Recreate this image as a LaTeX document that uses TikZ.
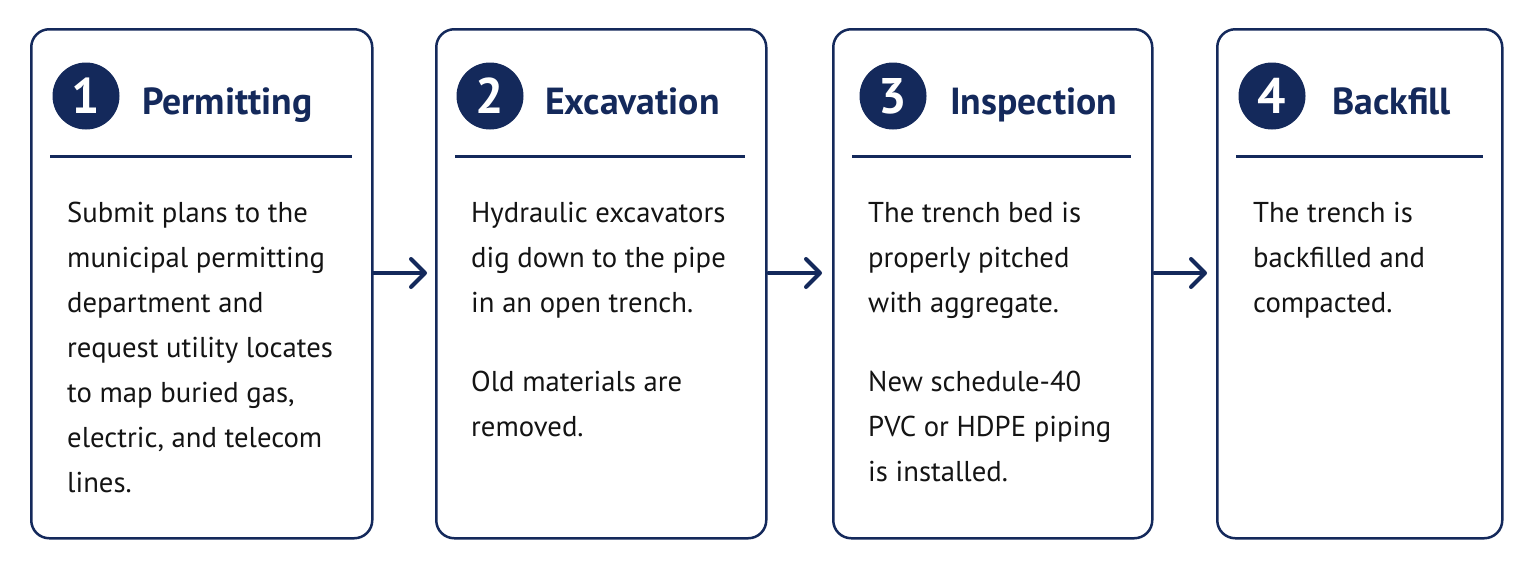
\documentclass[tikz,border=0pt]{standalone}
\usepackage{fontspec}
\setmainfont{PT Sans}
\usetikzlibrary{arrows.meta}
\definecolor{navy}{HTML}{14295B}
\definecolor{ink}{HTML}{141414}
\begin{document}
\begin{tikzpicture}[x=1pt,y=-1pt,
  card/.style={draw=navy,line width=2.5pt,rounded corners=18pt,fill=white,inner sep=0,anchor=north west},
  badge/.style={circle,fill=navy,text=white,minimum size=67pt,inner sep=0,font=\bfseries\fontsize{50}{50}\selectfont},
  ttl/.style={anchor=base west,inner sep=0,text=navy,font=\bfseries\fontsize{37.7}{38}\selectfont},
  rule/.style={draw=navy,line width=3pt},
  body/.style={anchor=base west,inner sep=0,text=ink,font=\fontsize{28.7}{45}\selectfont},
  flow/.style={draw=navy,line width=4pt,line cap=round,-{Straight Barb[length=14pt,width=28pt,line width=4pt,line cap=round,line join=round]}}
]
\useasboundingbox[fill=white] (0,0) rectangle (1530,568);

\node[card,minimum width=341pt,minimum height=509pt] (b1) at (30,28) {};
\node[card,minimum width=330pt,minimum height=509pt] (b2) at (435,28) {};
\node[card,minimum width=319pt,minimum height=509pt] (b3) at (832,28) {};
\node[card,minimum width=285pt,minimum height=509pt] (b4) at (1216,28) {};

\node[badge] (c1) at (86,96) {1};
\node[badge] (c2) at (490,96) {2};
\node[badge] (c3) at (893,96) {3};
\node[badge] (c4) at (1272,96) {4};

\node[ttl] (t1) at (142,114) {Permitting};
\node[ttl] (t2) at (545,114) {Excavation};
\node[ttl] (t3) at (950,114) {Inspection};
\node[ttl] (t4) at (1332,114) {Backfill};

\draw[rule] (50,156) -- (352,156);
\draw[rule] (455,156) -- (745,156);
\draw[rule] (852,156) -- (1131,156);
\draw[rule] (1236,156) -- (1483,156);

\node[body] (x1) at (67,222) {\parbox[t]{290pt}{\raggedright
Submit plans to the\\ municipal permitting\\ department and\\ request utility locates\\ to map buried gas,\\ electric, and telecom\\ lines.}};
\node[body] (x2) at (471,222) {\parbox[t]{280pt}{\raggedright
Hydraulic excavators\\ dig down to the pipe\\ in an open trench.\\[34pt] Old materials are\\ removed.}};
\node[body] (x3) at (868,222) {\parbox[t]{270pt}{\raggedright
The trench bed is\\ properly pitched\\ with aggregate.\\[34pt] New schedule-40\\ PVC or HDPE piping\\ is installed.}};
\node[body] (x4) at (1253,222) {\parbox[t]{240pt}{\raggedright
The trench is\\ backfilled and\\ compacted.}};

\coordinate (ay) at (0,273);
\draw[flow,shorten >=8pt] (b1.east |- ay) -- (b2.west |- ay);
\draw[flow,shorten <=1pt,shorten >=10pt] (b2.east |- ay) -- (b3.west |- ay);
\draw[flow,shorten <=1pt,shorten >=9pt] (b3.east |- ay) -- (b4.west |- ay);
\end{tikzpicture}
\end{document}
